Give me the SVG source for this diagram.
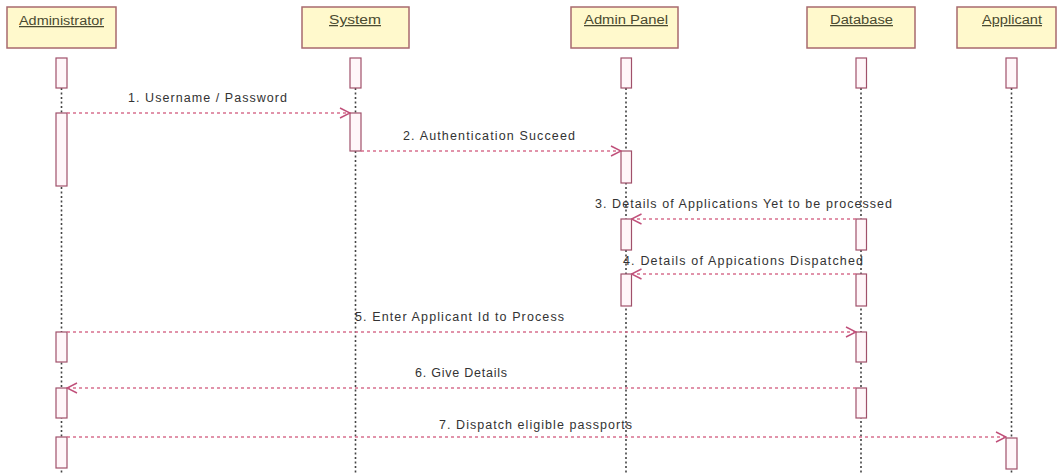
<svg xmlns="http://www.w3.org/2000/svg" width="1057" height="475" viewBox="0 0 1057 475">
<style>
.bg{fill:#ffffff}
.obj{fill:#fff9cc;stroke:#a86a6e;stroke-width:1.5}
.olbl{font-family:"Liberation Sans",Arial,sans-serif;font-size:12.5px;fill:#4a4a30;text-decoration:underline}
.life{stroke:#444444;stroke-width:1.6;stroke-dasharray:2 2.5;fill:none}
.act{fill:#fff6f9;stroke:#a0506a;stroke-width:1.2}
.msg{stroke:#d8708f;stroke-width:1.3;stroke-dasharray:3 3;fill:none}
.mlbl{font-family:"Liberation Sans",Arial,sans-serif;font-size:12.5px;fill:#333333}
</style>
<defs>
<marker id="open" viewBox="0 0 12 12" refX="11" refY="6" markerWidth="12" markerHeight="12" markerUnits="userSpaceOnUse" orient="auto">
<path d="M1,1 L11,6 L1,11" fill="none" stroke="#c0507a" stroke-width="1.4"/>
</marker>
</defs>
<rect class="bg" x="0" y="0" width="1057" height="475"/>

<g id="lifelines">
<line class="life" x1="61.5" y1="88" x2="61.5" y2="475"/>
<line class="life" x1="355.5" y1="88" x2="355.5" y2="475"/>
<line class="life" x1="626" y1="88" x2="626" y2="475"/>
<line class="life" x1="861" y1="88" x2="861" y2="475"/>
<line class="life" x1="1011.5" y1="88" x2="1011.5" y2="475"/>
</g>

<g id="administrator">
<rect class="obj" x="7" y="7" width="109" height="41"/>
<text class="olbl" x="19" y="25" textLength="85" lengthAdjust="spacingAndGlyphs">Administrator</text>
<rect class="act" x="56" y="58" width="11" height="30"/>
<rect class="act" x="56" y="113" width="11" height="73"/>
<rect class="act" x="56" y="332" width="11" height="30"/>
<rect class="act" x="56" y="388" width="11" height="30"/>
<rect class="act" x="56" y="437" width="11" height="31"/>
</g>

<g id="system">
<rect class="obj" x="302" y="7" width="107" height="41"/>
<text class="olbl" x="329" y="24" textLength="52" lengthAdjust="spacingAndGlyphs">System</text>
<rect class="act" x="350" y="58" width="11" height="30"/>
<rect class="act" x="350" y="113" width="11" height="38"/>
</g>

<g id="admin-panel">
<rect class="obj" x="571" y="7" width="107" height="41"/>
<text class="olbl" x="584" y="24" textLength="84" lengthAdjust="spacingAndGlyphs">Admin Panel</text>
<rect class="act" x="621" y="58" width="10.5" height="30"/>
<rect class="act" x="621" y="151" width="10.5" height="32"/>
<rect class="act" x="621" y="219" width="10.5" height="31"/>
<rect class="act" x="621" y="274" width="10.5" height="32"/>
</g>

<g id="database">
<rect class="obj" x="807" y="7" width="108" height="41"/>
<text class="olbl" x="830" y="24" textLength="63" lengthAdjust="spacingAndGlyphs">Database</text>
<rect class="act" x="856" y="58" width="10.5" height="30"/>
<rect class="act" x="856" y="219" width="10.5" height="31"/>
<rect class="act" x="856" y="274" width="10.5" height="32"/>
<rect class="act" x="856" y="332" width="10.5" height="30"/>
<rect class="act" x="856" y="388" width="10.5" height="30"/>
</g>

<g id="applicant">
<rect class="obj" x="957" y="7" width="99" height="41"/>
<text class="olbl" x="982" y="24" textLength="60" lengthAdjust="spacingAndGlyphs">Applicant</text>
<rect class="act" x="1006" y="58" width="11" height="30"/>
<rect class="act" x="1006" y="438" width="11" height="31"/>
</g>

<g id="connectors">
<line class="msg" x1="67" y1="113" x2="350" y2="113" marker-end="url(#open)"/>
<text class="mlbl" x="128" y="102" textLength="159" lengthAdjust="spacing">1. Username / Password</text>
<line class="msg" x1="361" y1="151" x2="621" y2="151" marker-end="url(#open)"/>
<text class="mlbl" x="403" y="140" textLength="172" lengthAdjust="spacing">2. Authentication Succeed</text>
<line class="msg" x1="856" y1="219" x2="631.5" y2="219" marker-end="url(#open)"/>
<text class="mlbl" x="595" y="208" textLength="297" lengthAdjust="spacing">3. Details of Applications Yet to be processed</text>
<line class="msg" x1="856" y1="274" x2="631.5" y2="274" marker-end="url(#open)"/>
<text class="mlbl" x="623" y="265" textLength="240" lengthAdjust="spacing">4. Details of Appications Dispatched</text>
<line class="msg" x1="67" y1="332" x2="856" y2="332" marker-end="url(#open)"/>
<text class="mlbl" x="355" y="321" textLength="209" lengthAdjust="spacing">5. Enter Applicant Id to Process</text>
<line class="msg" x1="856" y1="388" x2="67" y2="388" marker-end="url(#open)"/>
<text class="mlbl" x="415" y="377" textLength="92" lengthAdjust="spacing">6. Give Details</text>
<line class="msg" x1="67" y1="437" x2="1006" y2="437" marker-end="url(#open)"/>
<text class="mlbl" x="439" y="429" textLength="193" lengthAdjust="spacing">7. Dispatch eligible passports</text>
</g>
</svg>
